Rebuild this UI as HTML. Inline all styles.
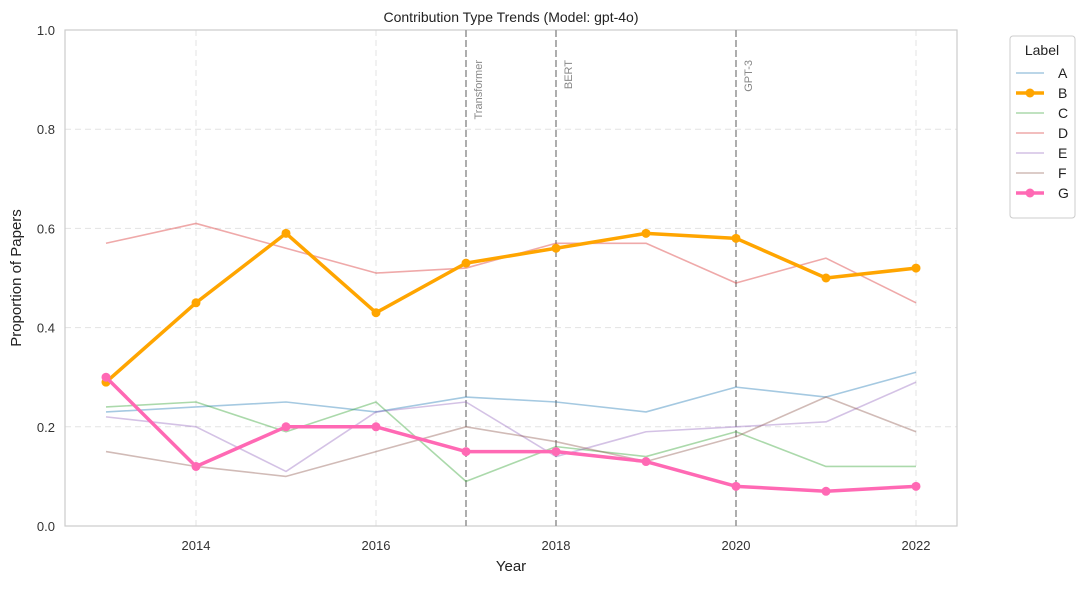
<!DOCTYPE html>
<html><head><meta charset="utf-8"><style>
body{margin:0;background:#fff;font-family:"Liberation Sans",Arial,sans-serif;}
</style></head><body>
<svg id="chart" width="1085" height="584" xmlns="http://www.w3.org/2000/svg" font-family="Liberation Sans, Arial, sans-serif"></svg>
<script>
const years=[2013,2014,2015,2016,2017,2018,2019,2020,2021,2022];
const seriesA=[0.23,0.24,0.25,0.23,0.26,0.25,0.23,0.28,0.26,0.31];
const seriesB=[0.29,0.45,0.59,0.43,0.53,0.56,0.59,0.58,0.50,0.52];
const seriesC=[0.24,0.25,0.19,0.25,0.09,0.16,0.14,0.19,0.12,0.12];
const seriesD=[0.57,0.61,0.56,0.51,0.52,0.57,0.57,0.49,0.54,0.45];
const seriesE=[0.22,0.20,0.11,0.23,0.25,0.14,0.19,0.20,0.21,0.29];
const seriesF=[0.15,0.12,0.10,0.15,0.20,0.17,0.13,0.18,0.26,0.19];
const seriesG=[0.30,0.12,0.20,0.20,0.15,0.15,0.13,0.08,0.07,0.08];
const xTicks=[2014,2016,2018,2020,2022];
const yTicks=[0,0.2,0.4,0.6,0.8,1.0];
const events=[[2017,"Transformer"],[2018,"BERT"],[2020,"GPT-3"]];

const svg=document.getElementById('chart');
const NS="http://www.w3.org/2000/svg";
const L=65,R=957,T=30,B=526;
const x=v=>196+(v-2014)*90;
const y=v=>B-(v)*(B-T);
function mk(tag,attrs,parent){const e=document.createElementNS(NS,tag);for(const k in attrs)e.setAttribute(k,attrs[k]);(parent||svg).appendChild(e);return e;}

yTicks.forEach(t=>{
 if(t>0&&t<1){const g=mk('line',{x1:L,x2:R,y1:y(t),y2:y(t),stroke:'#e3e3e3','stroke-dasharray':'6,4'});
 
 }
 const tx=mk('text',{x:L-10,y:y(t)+5,'text-anchor':'end','font-size':13,fill:'#333'});tx.textContent=t.toFixed(1);
 
 
});
xTicks.forEach(t=>{
 const g=mk('line',{x1:x(t),x2:x(t),y1:T,y2:B,stroke:'#e3e3e3','stroke-dasharray':'6,4'});
 
 
 const tx=mk('text',{x:x(t),y:B+24,'text-anchor':'middle','font-size':13,fill:'#333'});tx.textContent=t;
 
 
});
const fr=mk('rect',{x:L,y:T,width:R-L,height:B-T,fill:'none',stroke:'#ccc','stroke-width':1.2});



events.forEach(([yr,lab])=>{
 const l=mk('line',{x1:x(yr),x2:x(yr),y1:T,y2:B,stroke:'#999','stroke-width':1.6,'stroke-dasharray':'7,3'});
 
 
 const tx=mk('text',{transform:`translate(${x(yr)+16},${T+30}) rotate(-90)`,'text-anchor':'end','font-size':11,fill:'#888'});tx.textContent=lab;
 
 
});

const series=[
 ['A',seriesA,'#1f77b4',false],['B',seriesB,'#ffa500',true],['C',seriesC,'#2ca02c',false],
 ['D',seriesD,'#d62728',false],['E',seriesE,'#9467bd',false],['F',seriesF,'#8c564b',false],['G',seriesG,'#ff69b4',true]];
series.filter(s=>!s[3]).concat(series.filter(s=>s[3])).forEach(([name,vals,c,bold])=>{
 const p=mk('polyline',{points:vals.map((v,i)=>x(years[i])+','+y(v)).join(' '),fill:'none',stroke:c,'stroke-width':bold?3.5:1.6,opacity:bold?1:0.4,'stroke-linejoin':'round'});
 
 
 if(bold)vals.forEach((v,i)=>{const d=mk('circle',{cx:x(years[i]),cy:y(v),r:4.5,fill:c});
  
  });
});

let t=mk('text',{x:(L+R)/2,y:22,'text-anchor':'middle','font-size':14,fill:'#222'});t.textContent='Contribution Type Trends (Model: gpt-4o)';

t=mk('text',{x:(L+R)/2,y:571,'text-anchor':'middle','font-size':15,fill:'#222'});t.textContent='Year';

t=mk('text',{transform:'translate(21,278) rotate(-90)','text-anchor':'middle','font-size':15,fill:'#222'});t.textContent='Proportion of Papers';


const lg=mk('g',{});

mk('rect',{x:1010,y:36,width:65,height:182,rx:3,fill:'#fff',stroke:'#ccc'},lg);
t=mk('text',{x:1042,y:55,'text-anchor':'middle','font-size':14,fill:'#222'},lg);t.textContent='Label';
series.forEach(([name,vals,c,bold],i)=>{
 const yy=73+i*20;
 const g=mk('g',{},lg);
 
 
 mk('line',{x1:1016,x2:1044,y1:yy,y2:yy,stroke:c,'stroke-width':bold?3.5:1.6,opacity:bold?1:0.4},g);
 if(bold)mk('circle',{cx:1030,cy:yy,r:4.5,fill:c},g);
 const tx=mk('text',{x:1058,y:yy+5,'font-size':14,fill:'#222'},g);tx.textContent=name;
});
</script>
</body></html>
